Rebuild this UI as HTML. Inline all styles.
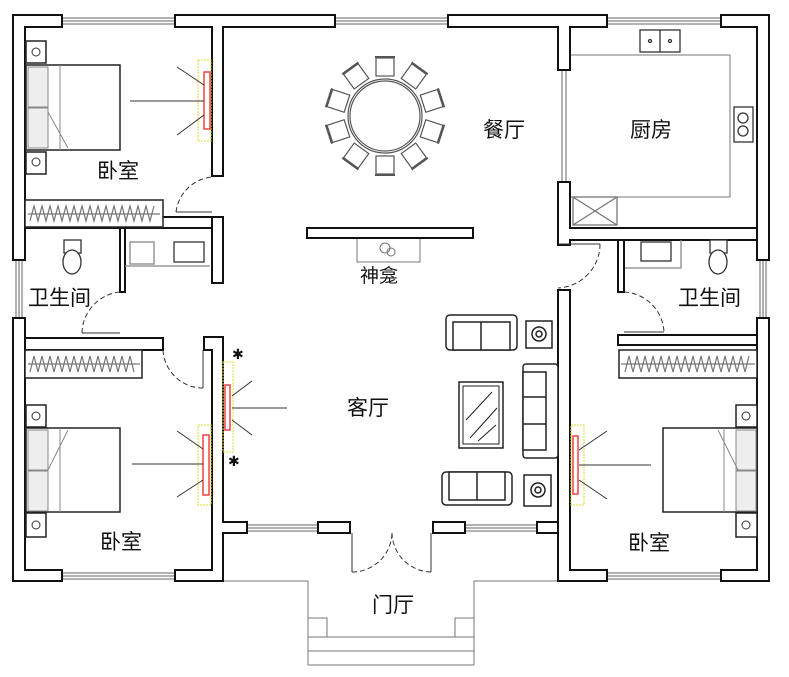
<!DOCTYPE html>
<html><head><meta charset="utf-8"><style>
html,body{margin:0;padding:0;background:#fff;}
svg{display:block;}
text{font-family:"Liberation Sans","Noto Sans CJK SC",sans-serif;fill:#111;}
</style></head><body>
<svg width="789" height="677" viewBox="0 0 789 677" xmlns="http://www.w3.org/2000/svg">
<g fill="none" stroke="#777" stroke-width="1">
<!-- porch -->
<path d="M223 581H308V665M558 581H474V665M308 637H474M308 651H474M308 665H474"/>
<rect x="308" y="618" width="19" height="19"/><rect x="455" y="618" width="19" height="19"/>
<!-- shrine -->
<rect x="357" y="238" width="63" height="24"/>
<circle cx="385" cy="248" r="5"/><circle cx="391" cy="252" r="4"/>
<!-- kitchen counter -->
<path d="M570 55H730V197H570"/>
</g>
<!-- windows -->
<g stroke="#666" stroke-width="1">
<path d="M62 18H175M62 21H175M62 24H175"/>
<path d="M335 18H448M335 21H448M335 24H448"/>
<path d="M607 18H721M607 21H721M607 24H721"/>
<path d="M16 260V318M19 260V318M22 260V318"/>
<path d="M760 260V318M763 260V318M766 260V318"/>
<path d="M62 573H175M62 576H175M62 579H175"/>
<path d="M607 573H721M607 576H721M607 579H721"/>
<path d="M247 525H318M247 528H318M247 531H318"/>
<path d="M465 525H537M465 528H537M465 531H537"/>
<path d="M562 70V182M566 70V182"/>
</g>
<!-- walls -->
<g fill="#fff" stroke="#111" stroke-width="2">
<path d="M13 15H62V27H25V260H13Z"/>
<path d="M175 15H335V27H223V176H212V27H175Z"/>
<path d="M448 15H607V27H570V70H558V27H448Z"/>
<path d="M721 15H769V260H757V27H721Z"/>
<path d="M13 318H25V570H62V581H13Z"/>
<path d="M757 318H769V581H721V570H757Z"/>
<path d="M175 570H212V350H204V337H223V522H247V533H223V581H175Z"/>
<path d="M607 570H570V290H558V533H537V522H558V581H607Z" />
<rect x="212" y="217" width="11" height="66"/>
<rect x="25" y="217" width="187" height="11"/>
<rect x="120" y="228" width="5" height="64"/>
<rect x="25" y="338" width="138" height="12"/>
<rect x="307" y="228" width="166" height="10"/>
<rect x="318" y="522" width="32" height="11"/>
<rect x="433" y="522" width="32" height="11"/>
<path d="M558 182H570V228H757V240H570V245H558Z"/>
<rect x="618" y="240" width="6" height="52"/>
<rect x="618" y="335" width="139" height="10"/>
</g>
<!-- doors arcs -->
<g fill="none" stroke="#333" stroke-width="1" stroke-dasharray="5,3">
<path d="M176 212A40 40 0 0 1 212 177"/>
<path d="M82 333A42 42 0 0 1 120 292"/>
<path d="M163 350A40 40 0 0 0 203 388"/>
<path d="M600 244A44 44 0 0 1 558 288"/>
<path d="M624 292A42 42 0 0 1 664 332"/>
<path d="M352 572A40 40 0 0 0 392 533M431 572A40 40 0 0 1 392 533"/>
</g>
<g fill="none" stroke="#333" stroke-width="1">
<path d="M176 212H212M82 333H120M203 350V388M558 244H600M624 332H664M352 533V572M431 533V572"/>
</g>
<!-- dining table -->
<g fill="#fff" stroke="#555" stroke-width="1.2">
<circle cx="385" cy="116" r="37"/><circle cx="385" cy="116" r="35"/>
<g id="ch"><rect x="376" y="58" width="18" height="18"/><path d="M375 57H395" stroke-width="2"/></g>
<use href="#ch" transform="rotate(36 385 116)"/><use href="#ch" transform="rotate(72 385 116)"/>
<use href="#ch" transform="rotate(108 385 116)"/><use href="#ch" transform="rotate(144 385 116)"/>
<use href="#ch" transform="rotate(180 385 116)"/><use href="#ch" transform="rotate(216 385 116)"/>
<use href="#ch" transform="rotate(252 385 116)"/><use href="#ch" transform="rotate(288 385 116)"/>
<use href="#ch" transform="rotate(324 385 116)"/>
</g>
<!-- living furniture -->
<g fill="#fff" stroke="#222" stroke-width="1.5">
<rect x="446" y="315" width="71" height="35" rx="4"/><rect x="453" y="322" width="57" height="28"/>
<path d="M481 322V350"/>
<rect x="442" y="472" width="70" height="33" rx="4"/><rect x="449" y="472" width="56" height="28"/>
<path d="M477 472V500"/>
<rect x="523" y="364" width="35" height="94" rx="3"/><rect x="523" y="372" width="23" height="78"/>
<path d="M523 397H546M523 424H546"/>
<rect x="459" y="382" width="44" height="66"/><rect x="463" y="386" width="36" height="58" stroke-width="1"/>
<path d="M466 420L492 392M470 438L497 408M478 441L496 425" stroke-width="1"/>
<rect x="526" y="321" width="26" height="27"/><circle cx="539" cy="334" r="7"/><circle cx="539" cy="334" r="3"/>
<rect x="524" y="475" width="27" height="31"/><circle cx="538" cy="490" r="7"/><circle cx="538" cy="490" r="3"/>
</g>
<!-- beds -->
<g fill="#fff" stroke="#222" stroke-width="1.5">
<rect x="26" y="65" width="94" height="85"/><rect x="26" y="41" width="20" height="22"/><rect x="26" y="152" width="20" height="22"/>
<rect x="26" y="405" width="20" height="22"/><rect x="26" y="98" width="0" height="0"/>
<rect x="26" y="428" width="94" height="84"/><rect x="26" y="513" width="20" height="24"/>
<rect x="663" y="428" width="94" height="84"/><rect x="736" y="405" width="21" height="22"/><rect x="736" y="513" width="21" height="24"/>
</g>
<g fill="#eee" stroke="#888" stroke-width="1">
<rect x="28" y="67" width="20" height="40"/><rect x="28" y="108" width="20" height="40"/>
<rect x="28" y="430" width="20" height="40"/><rect x="28" y="471" width="20" height="40"/>
<rect x="736" y="430" width="20" height="40"/><rect x="736" y="471" width="20" height="40"/>
<path d="M60 65V150M60 428V512M724 428V512M48 112L68 148M48 470L68 430M738 470L718 430" fill="none"/>
<circle cx="36" cy="52" r="4" fill="none" stroke="#333"/><circle cx="36" cy="162" r="4" fill="none" stroke="#333"/>
<circle cx="36" cy="416" r="4" fill="none" stroke="#333"/><circle cx="36" cy="525" r="4" fill="none" stroke="#333"/>
<circle cx="746" cy="416" r="4" fill="none" stroke="#333"/><circle cx="746" cy="525" r="4" fill="none" stroke="#333"/>
</g>
<!-- wardrobes -->
<g fill="#fff" stroke="#222" stroke-width="1.5">
<rect x="25" y="200" width="138" height="27"/><rect x="25" y="350" width="117" height="28"/><rect x="619" y="350" width="138" height="28"/>
</g>
<g fill="none" stroke="#777" stroke-width="1.2">
<path d="M28 214H160M28 364H140M621 364H755"/>
<path d="M30 221L34 206L38 221L42 206L46 221L50 206L54 221L58 206L62 221L66 206L70 221L74 206L78 221L82 206L86 221L90 206L94 221L98 206L102 221L106 206L110 221L114 206L118 221L122 206L126 221L130 206L134 221L138 206L142 221L146 206L150 221L154 206"/>
<path d="M30 372L34 356L38 372L42 356L46 372L50 356L54 372L58 356L62 372L66 356L70 372L74 356L78 372L82 356L86 372L90 356L94 372L98 356L102 372L106 356L110 372L114 356L118 372L122 356L126 372L130 356L134 372"/>
<path d="M625 372L629 356L633 372L637 356L641 372L645 356L649 372L653 356L657 372L661 356L665 372L669 356L673 372L677 356L681 372L685 356L689 372L693 356L697 372L701 356L705 372L709 356L713 372L717 356L721 372L725 356L729 372L733 356L737 372L741 356L745 372L749 356"/>
</g>
<!-- TVs -->
<g fill="none">
<g stroke="#dd3" stroke-width="1" stroke-dasharray="2,1">
<rect x="198" y="60" width="13" height="81"/><rect x="198" y="425" width="13" height="80"/>
<rect x="223" y="362" width="10" height="90"/><rect x="571" y="425" width="13" height="80"/>
</g>
<g stroke="#e44" stroke-width="1.5">
<rect x="204" y="72" width="6" height="57"/><rect x="203" y="435" width="6" height="60"/>
<rect x="225" y="385" width="5" height="45"/><rect x="573" y="436" width="5" height="58"/>
</g>
<g stroke="#333" stroke-width="1">
<path d="M130 101H204M177 67L204 85M177 135L204 115"/>
<path d="M132 464H203M177 431L203 449M177 497L203 480"/>
<path d="M287 408H232M252 381L232 396M252 435L232 420"/>
<path d="M651 465H579M607 431L579 450M607 499L579 480"/>
</g>
</g>
<text x="232" y="359" font-size="14">✱</text><text x="228" y="466" font-size="14">✱</text>
<!-- bathrooms -->
<g fill="#fff" stroke="#333" stroke-width="1.3">
<rect x="64" y="240" width="17" height="13"/><ellipse cx="72" cy="262" rx="9" ry="12"/>
<rect x="710" y="240" width="17" height="13"/><ellipse cx="718" cy="262" rx="9" ry="12"/>
<rect x="174" y="242" width="30" height="20"/><rect x="130" y="242" width="24" height="22" stroke="#888"/>
<rect x="641" y="242" width="30" height="19"/><path d="M625 268H681V240" stroke="#888" fill="none"/>
<path d="M125 266H210" stroke="#888"/>
</g>
<!-- kitchen items -->
<g fill="#fff" stroke="#333" stroke-width="1.3">
<rect x="640" y="30" width="40" height="22"/><path d="M660 30V52"/>
<circle cx="650" cy="41" r="1.5"/><circle cx="670" cy="41" r="1.5"/>
<rect x="734" y="107" width="19" height="35"/><circle cx="743" cy="118" r="5"/><circle cx="743" cy="131" r="5"/>
<rect x="573" y="197" width="44" height="28" stroke="#777"/><path d="M573 197L617 225M617 197L573 225" stroke="#777"/>
</g>
<!-- labels -->
<g font-size="21">
<text x="97" y="178">卧室</text>
<text x="28" y="305">卫生间</text>
<text x="360" y="282" font-size="19">神龛</text>
<text x="347" y="415">客厅</text>
<text x="483" y="137">餐厅</text>
<text x="630" y="137">厨房</text>
<text x="678" y="305">卫生间</text>
<text x="100" y="549">卧室</text>
<text x="628" y="550">卧室</text>
<text x="372" y="612">门厅</text>
</g>
</svg>
</body></html>
